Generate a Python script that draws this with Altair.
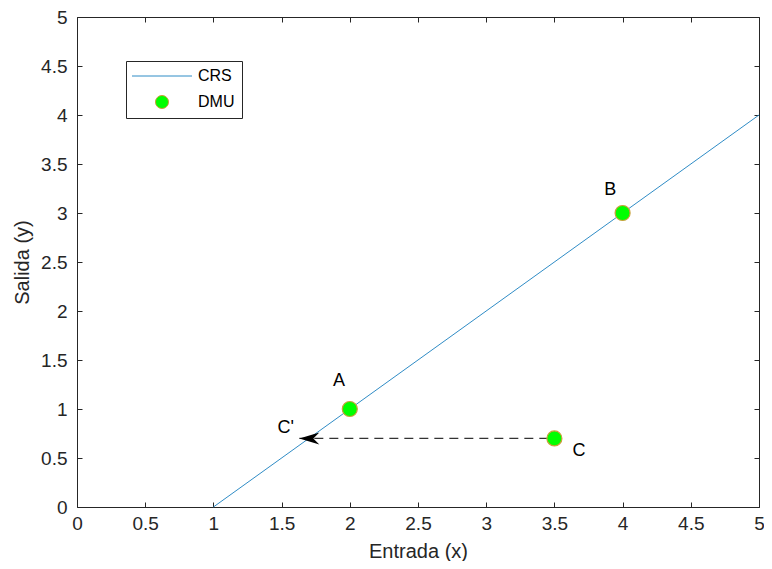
import altair as alt
import pandas as pd

# ---- data ----
crs_x = [1, 5]
crs_y = [0, 4]

dmu_names = ["A", "B", "C"]
dmu_x = [2, 4, 3.5]
dmu_y = [1, 3, 0.7]

label_text = ["A", "B", "C", "C'"]
label_x = [1.92, 3.91, 3.68, 1.53]
label_y = [1.29, 3.23, 0.57, 0.81]

arrow_x_start = [3.5]
arrow_x_end = [1.63]
arrow_y = [0.7]

tick_vals = [0, 0.5, 1, 1.5, 2, 2.5, 3, 3.5, 4, 4.5, 5]

W, H = 682, 490
FONT = "Liberation Sans"
LINE_COLOR = "#2f8cc6"
EDGE = "#262626"

crs_df = pd.DataFrame({"x": crs_x, "y": crs_y, "series": ["CRS"] * len(crs_x)})
dmu_df = pd.DataFrame({"x": dmu_x, "y": dmu_y, "name": dmu_names, "series": ["DMU"] * len(dmu_x)})
lab_df = pd.DataFrame({"x": label_x, "y": label_y, "t": label_text})
arr_df = pd.DataFrame({"x": arrow_x_end, "x2": arrow_x_start, "y": arrow_y})

xs = alt.Scale(domain=[0, 5], nice=False, zero=False)
ys = alt.Scale(domain=[0, 5], nice=False, zero=False)

def tick_axis(orient, offset):
    return alt.Axis(orient=orient, offset=offset, labels=False, domain=False, grid=False,
                    ticks=True, tickSize=5, tickColor=EDGE, tickWidth=1, values=tick_vals, title=None)

# labeled axes
x_main = alt.Axis(orient="bottom", values=tick_vals, format="~g", ticks=False, domain=False, grid=False,
                  labelFont=FONT, labelFontSize=19, labelColor="#262626", labelPadding=7,
                  title="Entrada (x)", titleFont=FONT, titleFontSize=20, titleFontWeight="normal",
                  titleColor="#262626", titlePadding=8, labelFlush=False)
y_main = alt.Axis(orient="left", values=tick_vals, format="~g", ticks=False, domain=False, grid=False,
                  labelFont=FONT, labelFontSize=19, labelColor="#262626", labelPadding=10,
                  title="Salida (y)", titleFont=FONT, titleFontSize=20, titleFontWeight="normal",
                  titleColor="#262626", titlePadding=8, labelFlush=False)

line = alt.Chart(crs_df).mark_line(strokeWidth=1, color=LINE_COLOR).encode(
    x=alt.X("x:Q", scale=xs, axis=x_main),
    y=alt.Y("y:Q", scale=ys, axis=y_main),
)

# inner ticks on all four sides of the box
ticks_a = alt.Chart(crs_df).mark_line(opacity=0).encode(
    x=alt.X("x:Q", scale=xs, axis=tick_axis("top", -H)),
    y=alt.Y("y:Q", scale=ys, axis=tick_axis("right", -W)),
)
ticks_b = alt.Chart(crs_df).mark_line(opacity=0).encode(
    x=alt.X("x:Q", scale=xs, axis=tick_axis("bottom", -H)),
    y=alt.Y("y:Q", scale=ys, axis=tick_axis("left", -W)),
)

arrow_line = alt.Chart(arr_df).mark_rule(color="#333333", strokeWidth=1.2, strokeDash=[9, 6]).encode(
    x=alt.X("x:Q", scale=xs, axis=None),
    x2="x2:Q",
    y=alt.Y("y:Q", scale=ys, axis=None),
)
arrow_head = alt.Chart(arr_df).mark_point(
    shape="M0,0 L2,-0.6 L1.4,0 L2,0.6 Z", size=400, filled=True, color="#000000", opacity=1
).encode(
    x=alt.X("x:Q", scale=xs, axis=None),
    y=alt.Y("y:Q", scale=ys, axis=None),
)

legend_line_path = "M-4.6,0 L4.6,0"
points = alt.Chart(dmu_df).mark_point(filled=True, size=225, strokeWidth=1.2, opacity=1).encode(
    x=alt.X("x:Q", scale=xs, axis=None),
    y=alt.Y("y:Q", scale=ys, axis=None),
    fill=alt.Fill("series:N", scale=alt.Scale(domain=["CRS", "DMU"], range=["transparent", "#00ff00"]),
                  legend=alt.Legend(title=None)),
    stroke=alt.Stroke("series:N", scale=alt.Scale(domain=["CRS", "DMU"], range=[LINE_COLOR, "#c9a03a"]),
                      legend=alt.Legend(title=None)),
    shape=alt.Shape("series:N", scale=alt.Scale(domain=["CRS", "DMU"], range=[legend_line_path, "circle"]),
                    legend=alt.Legend(title=None)),
)

labels = alt.Chart(lab_df).mark_text(font=FONT, fontSize=18, color="#000000").encode(
    x=alt.X("x:Q", scale=xs, axis=None),
    y=alt.Y("y:Q", scale=ys, axis=None),
    text="t:N",
)

chart = alt.layer(line, ticks_a, ticks_b, arrow_line, arrow_head, points, labels).resolve_axis(
    x="independent", y="independent"
).properties(
    width=W, height=H,
    autosize=alt.AutoSizeParams(type="none"),
    padding={"left": 69, "top": 9, "right": 5, "bottom": 54},
).configure_view(stroke=EDGE, strokeWidth=1).configure_legend(
    orient="none", legendX=49, legendY=44,
    strokeColor=EDGE, fillColor="white", padding=7, cornerRadius=0,
    labelFont=FONT, labelFontSize=16, labelColor="#000000",
    symbolSize=170, symbolStrokeWidth=1, symbolOffset=21, labelOffset=28, rowPadding=9,
)

chart.save("out.html", embed_options={"renderer": "svg", "actions": False})
